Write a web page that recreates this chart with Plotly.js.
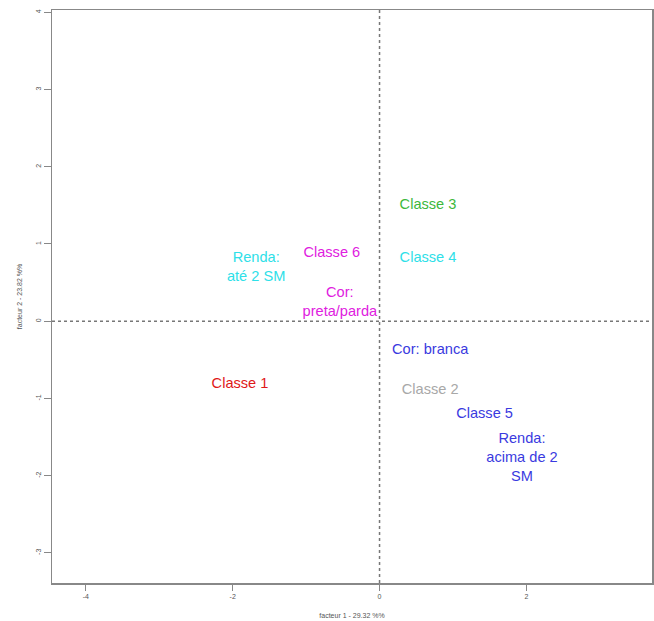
<!DOCTYPE html>
<html><head><meta charset="utf-8">
<script src="https://cdn.plot.ly/plotly-3.0.1.min.js"></script>
<style>html,body{margin:0;padding:0;background:#fff}</style>
</head><body><div id="chart" style="width:654px;height:621px"></div>
<script>
const labels = ["Classe 3","Classe 4","Classe 6","Renda:<br>até 2 SM","Cor:<br>preta/parda","Cor: branca","Classe 2","Classe 5","Renda:<br>acima de 2<br>SM","Classe 1"];
const xVals = [0.66, 0.66, -0.65, -1.68, -0.54, 0.69, 0.69, 1.43, 1.94, -1.90];
const yVals = [1.50, 0.82, 0.88, 0.69, 0.24, -0.38, -0.89, -1.21, -1.78, -0.82];
const colors = ["#3cb83c","#2ee0e8","#e020e0","#2ee0e8","#e020e0","#3a3ae0","#a8a8a8","#3a3ae0","#3a3ae0","#e01818"];
const xTicks = [-4,-2,0,2];
const yTicks = [-3,-2,-1,0,1,2,3,4];

const trace = {
  x: xVals, y: yVals, text: labels, mode: "text", type: "scatter",
  textposition: "middle center",
  textfont: {family: "Liberation Sans, Arial, sans-serif", size: 14.6, color: colors},
  hoverinfo: "none", showlegend: false
};
const axFont = {family: "Liberation Sans, Arial, sans-serif", size: 7, color: "#555"};
const layout = {
  width: 654, height: 621,
  margin: {l: 52, r: 2, t: 10, b: 38},
  paper_bgcolor: "#fff", plot_bgcolor: "#fff",
  showlegend: false,
  xaxis: {range: [-4.46, 3.71], tickvals: xTicks, ticktext: xTicks.map(String),
    showgrid: false, zeroline: false, showline: true, mirror: true, linecolor: "#888", linewidth: 1.5,
    ticks: "outside", ticklen: 6, tickcolor: "#888", tickfont: axFont,
    title: {text: "facteur 1 - 29.32 %%", font: axFont, standoff: 14}},
  yaxis: {range: [-3.39, 4.03], tickvals: yTicks, ticktext: yTicks.map(String), tickangle: -90,
    showgrid: false, zeroline: false, showline: true, mirror: true, linecolor: "#888", linewidth: 1.5,
    ticks: "outside", ticklen: 7, tickcolor: "#888", tickfont: axFont,
    title: {text: "facteur 2 - 23.82 %%", font: axFont, standoff: 11}},
  shapes: [
    {type: "line", xref: "x", yref: "paper", x0: 0, x1: 0, y0: 0, y1: 1, line: {color: "#777", width: 1.5, dash: "dot"}},
    {type: "line", xref: "paper", yref: "y", x0: 0, x1: 1, y0: 0, y1: 0, line: {color: "#777", width: 1.5, dash: "dot"}}
  ]
};
Plotly.newPlot("chart", [trace], layout, {displayModeBar: false, staticPlot: true});
</script></body></html>
